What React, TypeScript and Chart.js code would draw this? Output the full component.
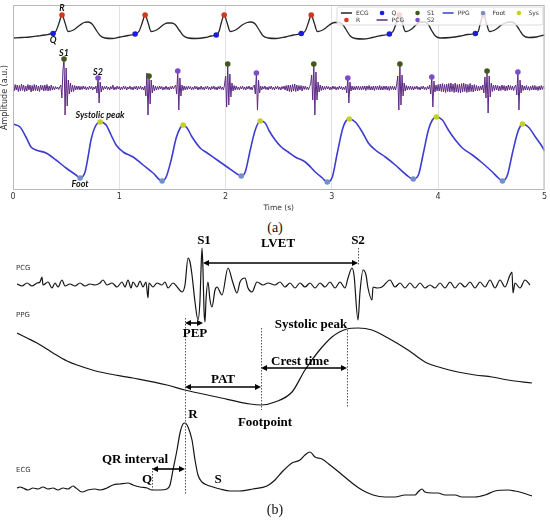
import React, { useEffect, useRef } from "react";
import { Chart, registerables } from "chart.js";
Chart.register(...registerables);

// ================= Panel (a) data =================
const timeTicks = [0, 1, 2, 3, 4, 5];

// ECG (time s, amplitude a.u.)
const ecgT = [
  0, 0.085, 0.16, 0.235, 0.301, 0.348, 0.377, 0.405, 0.433, 0.461, 0.49, 0.518, 0.546, 0.584, 0.631, 0.669, 0.706, 0.744, 0.782, 0.819, 0.866, 0.932, 1.008, 1.083,
  1.149, 1.187, 1.215, 1.243, 1.271, 1.3, 1.328, 1.365, 1.412, 1.45, 1.488, 1.525, 1.563, 1.601, 1.648, 1.723, 1.808, 1.864,
  1.912, 1.94, 1.959, 1.987, 2.015, 2.043, 2.071, 2.109, 2.156, 2.203, 2.241, 2.279, 2.316, 2.354, 2.401, 2.477, 2.561, 2.637,
  2.712, 2.75, 2.778, 2.806, 2.834, 2.863, 2.891, 2.929, 2.976, 3.023, 3.06, 3.098, 3.136, 3.173, 3.22, 3.296, 3.38, 3.465,
  3.541, 3.578, 3.606, 3.635, 3.663, 3.691, 3.719, 3.757, 3.795, 3.832, 3.87, 3.908, 3.936, 3.974, 4.021, 4.116, 4.21, 4.275,
  4.35, 4.379, 4.397, 4.426, 4.454, 4.482, 4.51, 4.548, 4.595, 4.642, 4.689, 4.727, 4.765, 4.802, 4.849, 4.925, 5,
];
const ecgA = [
  -0.2, -0.15, -0.1, 0, 0.1, 0.2, 0.25, 0.5, 1.3, 2.1, 1.3, 0.45, 0.5, 0.7, 1.1, 1.35, 1.4, 1.2, 0.6, 0.05, -0.2, -0.25, -0.1, 0.05,
  0.2, 0.5, 1.3, 2.1, 1.3, 0.45, 0.5, 0.7, 1.1, 1.3, 1.3, 1.15, 0.6, 0.05, -0.2, -0.25, -0.15, 0,
  0.1, 0.5, 1.3, 2.1, 1.3, 0.45, 0.5, 0.7, 1.1, 1.35, 1.4, 1.2, 0.6, 0, -0.2, -0.25, -0.1, 0.1,
  0.25, 0.5, 1.3, 2.1, 1.3, 0.45, 0.5, 0.7, 1.1, 1.35, 1.35, 1.2, 0.6, 0, -0.25, -0.3, -0.15, 0.05,
  0.2, 0.5, 1.3, 2.1, 1.3, 0.45, 0.5, 0.75, 1.15, 1.4, 1.4, 1.15, 0.6, 0, -0.2, -0.15, 0, 0.15,
  0.25, 0.5, 1.3, 2.1, 1.3, 0.45, 0.5, 0.7, 1.1, 1.35, 1.4, 1.2, 0.6, 0.05, -0.15, -0.1, 0.1,
];
const qT = [0.377, 1.149, 1.912, 2.712, 3.541, 4.35];
const qA = [0.25, 0.2, 0.1, 0.25, 0.2, 0.25];
const rT = [0.461, 1.243, 1.987, 2.806, 3.635, 4.426];
const rA = [2.1, 2.1, 2.1, 2.1, 2.1, 2.1];

// PCG sampled every 0.01 s
const pcgStep = 0.01;
const pcgA = [
  0.1, -0.3, 0.35, -0.2, 0.3, -0.35, 0.25, -0.3, 0.4, -0.25,
  0.3, -0.35, 0.2, -0.3, 0.35, -0.2, 0.3, -0.4, 0.25, -0.3,
  0.35, -0.25, 0.3, -0.3, 0.2, -0.35, 0.3, -0.2, 0.25, -0.3,
  0.3, -0.25, 0.35, -0.3, 0.2, -0.25, 0.3, -0.2, 0.15, -0.2,
  0.15, -0.1, 0.1, -0.15, 0.1, 0.3, -1.0, 1.8, 2.9, -2.7,
  2.0, -1.8, 0.8, -0.6, 0.5, -0.4, 0.3, -0.35, 0.25, -0.2,
  0.2, -0.15, 0.2, -0.2, 0.15, -0.15, 0.2, -0.1, 0.15, -0.2,
  0.1, -0.15, 0.2, -0.1, 0.15, -0.2, 0.1, -0.1, 0.2, -0.5,
  1.0, -1.5, 0.6, -0.4, 0.2, -0.2, 0.15, -0.1, 0.2, -0.15,
  0.1, -0.2, 0.15, -0.1, 0.3, -0.2, 0.1, -0.15, 0.2, -0.1,
  0.15, -0.2, 0.1, -0.15, 0.2, -0.1, 0.15, -0.2, 0.1, -0.1,
  0.2, -0.15, 0.1, -0.2, 0.15, -0.1, 0.2, -0.2, 0.15, -0.1,
  0.2, -0.15, 0.1, -0.2, 0.2, -0.8, 1.5, -2.7, 1.2, -1.6,
  0.8, -0.5, 0.3, -0.3, 0.2, -0.2, 0.15, -0.15, 0.2, -0.1,
  0.15, -0.2, 0.1, -0.15, 0.2, -0.15, 0.1, -0.2, 0.15, -0.1,
  0.2, -0.1, 0.15, 0.3, -0.6, 1.7, -2.2, 1.0, -0.8, 0.3,
  -0.25, 0.2, -0.2, 0.15, -0.15, 0.2, -0.1, 0.15, -0.2, 0.1,
  -0.15, 0.2, -0.1, 0.15, -0.2, 0.1, -0.15, 0.2, -0.15, 0.1,
  -0.2, 0.15, -0.1, 0.2, -0.15, 0.1, -0.2, 0.15, -0.1, 0.2,
  -0.15, 0.1, -0.2, 0.15, -0.1, 0.2, -0.15, 0.1, -0.2, 0.3,
  1.2, -1.9, 2.4, -1.7, 1.4, -0.9, 0.5, -0.3, 0.25, -0.2,
  0.2, -0.15, 0.1, -0.2, 0.15, -0.1, 0.2, -0.15, 0.1, -0.2,
  0.15, -0.1, 0.2, -0.15, 0.1, -0.2, 0.15, 0.3, -0.6, 1.5,
  -2.2, 0.8, -0.5, 0.2, -0.2, 0.15, -0.1, 0.2, -0.15, 0.1,
  -0.2, 0.15, -0.1, 0.2, -0.15, 0.1, -0.2, 0.15, -0.1, 0.2,
  -0.15, 0.1, -0.2, 0.15, -0.1, 0.2, -0.2, 0.25, -0.3, 0.3,
  -0.35, 0.3, -0.4, 0.35, -0.3, 0.4, -0.35, 0.3, -0.3, 0.25,
  -0.2, 0.25, -0.3, 0.2, -0.15, 0.2, -0.15, 0.1, -0.2, 0.15,
  0.4, 1.3, -1.2, 2.4, -2.7, 1.6, -1.2, 0.6, -0.4, 0.3,
  -0.25, 0.2, -0.2, 0.15, -0.15, 0.2, -0.1, 0.15, -0.2, 0.1,
  -0.15, 0.2, -0.1, 0.15, -0.2, 0.1, -0.15, 0.2, -0.1, 0.15,
  -0.2, 0.1, -0.15, 0.2, -0.5, 1.0, -1.5, 0.6, -0.3, 0.2,
  -0.2, 0.15, -0.2, 0.2, -0.15, 0.2, -0.2, 0.15, -0.2, 0.2,
  -0.15, 0.2, -0.25, 0.2, -0.15, 0.25, -0.2, 0.15, -0.2, 0.2,
  -0.25, 0.2, -0.15, 0.2, -0.2, 0.25, -0.2, 0.15, -0.2, 0.2,
  -0.15, 0.2, -0.2, 0.15, -0.25, 0.2, -0.15, 0.2, -0.2, 0.15,
  -0.2, 0.4, 1.2, -2.2, 2.4, -1.7, 1.3, -0.8, 0.5, -0.3,
  0.25, -0.2, 0.2, -0.15, 0.2, -0.2, 0.15, -0.2, 0.15, -0.1,
  0.2, -0.15, 0.1, -0.2, 0.15, -0.1, 0.2, -0.15, 0.1, -0.2,
  0.15, -0.1, 0.3, -0.6, 1.1, -1.9, 0.7, -0.4, 0.3, -0.3,
  0.35, -0.3, 0.4, -0.35, 0.45, -0.4, 0.35, -0.45, 0.4, -0.35,
  0.45, -0.4, 0.5, -0.35, 0.4, -0.45, 0.5, -0.4, 0.35, -0.45,
  0.4, -0.5, 0.45, -0.4, 0.5, -0.35, 0.4, -0.45, 0.35, -0.4,
  0.45, -0.35, 0.3, -0.4, 0.35, -0.3, 0.25, -0.3, 0.2, -0.25,
  0.2, -0.2, 0.3, -0.5, 1.1, -1.0, 1.7, -2.5, 1.2, -0.9,
  0.5, -0.35, 0.3, -0.25, 0.3, -0.2, 0.25, -0.3, 0.2, -0.25,
  0.3, -0.2, 0.25, -0.3, 0.2, -0.25, 0.3, -0.2, 0.25, -0.2,
  0.2, -0.25, 0.15, 0.3, -0.7, 1.6, -2.2, 0.8, -0.5, 0.3,
  -0.25, 0.2, -0.2, 0.25, -0.2, 0.15, -0.25, 0.2, -0.2, 0.25,
  -0.2, 0.25, -0.2, 0.15, -0.25, 0.2, -0.2, 0.25, -0.15, 0.2,
  -0.1,
];
const s1T = [0.48, 1.28, 2.02, 2.83, 3.64, 4.46];
const s1A = [2.9, 1.2, 2.4, 2.4, 2.4, 1.7];
const s2T = [0.8, 1.55, 2.29, 3.15, 3.94, 4.75];
const s2A = [1.0, 1.7, 1.5, 1.0, 1.1, 1.6];

// PPG
const ppgT = [
  0, 0.066, 0.122, 0.169, 0.217, 0.311, 0.405, 0.499, 0.593, 0.631,
  0.678, 0.706, 0.734, 0.772, 0.819,
  0.876, 0.923, 0.97, 1.036, 1.13, 1.224, 1.318, 1.403,
  1.441, 1.488, 1.535, 1.573, 1.601,
  1.638, 1.685, 1.761, 1.827, 1.921, 2.015, 2.109, 2.147,
  2.185, 2.232, 2.279, 2.326,
  2.373, 2.411, 2.467, 2.524, 2.589, 2.655, 2.75, 2.844, 2.91, 2.957,
  3.004, 3.051, 3.098, 3.126, 3.164,
  3.22, 3.286, 3.343, 3.409, 3.503, 3.597, 3.691, 3.766,
  3.814, 3.861, 3.908, 3.945, 3.983,
  4.04, 4.096, 4.162, 4.228, 4.322, 4.416, 4.51, 4.567, 4.605,
  4.652, 4.699, 4.746, 4.774, 4.793,
  4.849, 4.915, 4.981, 5.0,
];
const ppgA = [
  5.6, 5.3, 4.3, 3.3, 3.0, 2.7, 2.0, 1.2, 0.5, 0.2,
  0.8, 2.3, 4.0, 5.3, 5.8,
  5.5, 4.5, 3.5, 2.8, 2.3, 1.5, 0.7, -0.1,
  0.3, 2.0, 4.2, 5.2, 5.5,
  5.2, 4.3, 3.2, 2.7, 2.0, 1.3, 0.6, 0.4,
  0.8, 3.0, 5.0, 5.9,
  5.7, 4.9, 4.0, 3.3, 2.8, 2.3, 1.8, 0.8, 0.2, -0.2,
  0.3, 2.7, 5.0, 5.8, 6.1,
  5.8, 4.8, 3.7, 3.0, 2.3, 1.5, 0.6, 0.1,
  0.5, 2.7, 5.0, 6.0, 6.3,
  6.0, 5.0, 4.0, 3.2, 2.5, 1.7, 0.8, 0.2, -0.1,
  0.5, 2.7, 4.7, 5.4, 5.6,
  5.3, 4.3, 3.3, 2.9,
];
const footT = [0.631, 1.403, 2.147, 2.957, 3.766, 4.605];
const footA = [0.2, -0.1, 0.4, -0.2, 0.1, -0.1];
const sysT = [0.819, 1.601, 2.326, 3.164, 3.983, 4.793];
const sysA = [5.8, 5.5, 5.9, 6.1, 6.3, 5.6];

// ================= Panel (b) data (time ms, amplitude a.u.) =================
const pcgBT = [
  0, 10, 20, 30, 40, 46, 50, 52, 62, 70, 76, 82, 90, 96, 106, 116, 126, 136, 146, 156,
  166, 172, 180, 190, 200, 210, 216, 222, 228, 232, 240, 246, 252, 258, 262, 264, 272, 280, 290, 296,
  302, 312, 322, 330, 336, 342, 346, 350, 356, 362, 366, 368, 370, 372, 374, 376, 378, 382, 386, 390,
  396, 400, 410, 422, 432, 440, 446, 456, 462, 470, 480, 492, 502, 516, 526, 536, 546, 556, 566, 576,
  586, 596, 606, 616, 626, 636, 646, 656, 662, 670, 674, 682, 686, 692, 698, 702, 710, 712, 720, 730,
  746, 756, 766, 776, 786, 796, 806, 816, 826, 836, 846, 856, 866, 876, 886, 896, 906, 916, 926, 936,
  946, 956, 966, 976, 986, 990, 992, 996, 1006, 1016, 1026,
];
const pcgBA = [
  0.1, -0.1, 0.2, -0.1, 0.2, 0.3, 0.8, 0, 0.3, -0.3, 0.2, -0.2, 0.5, -0.1, 0.1, -0.1, 0.2, -0.1, 0.1, 0,
  0.2, 0.5, 0, 0.2, -0.2, 0.3, -0.2, 0.5, -0.3, 0.3, -0.2, 0.4, -0.2, 0.3, -1.3, 0.2, -0.2, 0.2, 0, 0.3,
  -0.3, 0.2, -0.3, -0.7, 0, 2.7, 2.3, 1.0, -1.7, -3.5, -1.5, 1.5, 3.7, 1.5, -2.5, -3.7, -1.5, 0.3, -1.5, -2.2,
  -0.5, -0.2, -1.0, 1.7, 0.2, -0.8, 0.3, 0.7, -0.3, -0.7, 0.3, 0, 0.2, 0, 0.3, -0.2, 0.2, -0.3, 0.2, -0.2,
  0.2, -0.3, 0.2, -0.2, 0.3, -0.3, 0.3, -0.3, 0.7, 1.7, 1.0, -3.5, -0.7, 1.5, 1.0, -0.3, -1.5, -0.2, -0.3, -0.2,
  0.5, -0.2, 0.2, -0.3, 0.2, -0.3, 0.2, -0.3, 0, -0.3, 0.2, -0.3, 0.3, -0.3, 0.2, -0.2, 0.3, -0.3, 0.3, -0.2,
  0.5, -0.3, 0.5, -0.2, 1.0, 1.3, -0.8, 0.2, -0.3, 0.5, 0,
];
const ppgBT = [0, 20, 40, 72, 100, 120, 166, 232, 300, 336, 400, 466, 488, 516, 550, 576, 602, 630, 660, 682, 710, 742, 782, 816, 850, 882, 916, 950, 982, 1030];
const ppgBA = [7.2, 6.7, 6.2, 5.2, 4.4, 4.0, 3.3, 2.7, 2.0, 1.5, 0.8, 0.1, 0, 0.3, 1.3, 3.5, 5.3, 6.8, 7.6, 7.7, 7.5, 6.7, 5.5, 4.3, 3.7, 3.3, 3.0, 2.8, 2.5, 2.2];
const ecgBT = [
  0, 6, 12, 22, 32, 42, 52, 62, 72, 82, 92, 102, 112, 118, 130, 142, 156, 166, 180, 192,
  206, 222, 232, 246, 260, 270, 286, 300, 306, 312, 320, 326, 332, 336, 342, 350, 356, 362, 370, 380,
  392, 406, 426, 446, 472, 500, 516, 530, 550, 566, 576, 586, 596, 610, 626, 646, 670, 690, 712, 736,
  756, 776, 796, 802, 810, 816, 830, 842, 856, 876, 890, 916, 936, 956, 982, 996, 1012, 1030,
];
const ecgBA = [
  0, 0.1, 0, -0.2, 0, -0.1, 0.1, -0.1, 0, -0.2, 0, -0.1, 0.2, 0, -0.4, -0.2, -0.1, -0.2, 0, 0.3,
  0.4, 0.5, 0.3, 0.1, 0, -0.2, -0.2, -0.1, 0.3, 1.8, 3.8, 5.5, 6.4, 6.5, 6.1, 4.8, 2.8, 1.3, 0.6, 0.3,
  0.1, -0.1, -0.3, -0.3, -0.1, 0.2, 0.8, 1.6, 2.5, 2.8, 3.3, 3.6, 3.1, 2.9, 2.3, 1.5, 0.5, -0.2, -0.7, -0.9,
  -0.9, -0.7, -0.7, -0.4, -0.1, -0.4, -0.5, -0.5, -0.7, -0.7, -0.9, -0.9, -0.7, -0.3, -0.2, -0.3, -0.5, -0.8,
];
// event times in panel (b), ms
const bQ = 270, bR = 336, bS1 = 372, bS2 = 682, bFoot = 488, bCrest = 660;

// ================= layout / style constants =================
const ECG_OFF = 15.4, PCG_OFF = 10.2, PPG_OFF = 1.0;
const PCG_B_OFF = 24.1, PPG_B_OFF = 12.1, ECG_B_OFF = 3.8;
const C = {
  ecg: "#262626", r: "#d2381e", q: "#1c1ce0", pcg: "#5e2a84", s1: "#3f5a1c",
  s2: "#7d4cc8", ppg: "#3d3dd0", foot: "#7391c8", sys: "#c5cf2a",
};
const legendColumns = [["ECG", "R"], ["Q", "PCG"], ["S1", "S2"], ["PPG"], ["Foot"], ["Sys"]];

function series(ts: number[], as: number[], off: number) {
  return ts.map((t, i) => ({ x: t, y: as[i] + off }));
}

function drawLegend(chart: any) {
  const ctx = chart.ctx;
  const ca = chart.chartArea;
  ctx.save();
  ctx.font = '6px "DejaVu Sans"';
  const cols = legendColumns.map((col) => col.map((l) => chart.data.datasets.find((d: any) => d.label === l)));
  const handle = 11, gap = 4, colGap = 8, pad = 4;
  const widths = cols.map((col) => handle + gap + Math.max(...col.map((d: any) => ctx.measureText(d.label).width)));
  const total = widths.reduce((a, b) => a + b, 0) + colGap * (cols.length - 1) + pad * 2;
  const right = ca.right - 1.5, top = ca.top + 2;
  const left = right - total;
  const h = 18;
  ctx.fillStyle = "rgba(255,255,255,0.8)";
  ctx.strokeStyle = "#d4d4d4";
  ctx.lineWidth = 0.8;
  ctx.beginPath();
  ctx.roundRect(left, top, total, h, 2);
  ctx.fill();
  ctx.stroke();
  let cx = left + pad;
  cols.forEach((col, ci) => {
    col.forEach((d: any, ri: number) => {
      const cy = top + 6 + 7 * ri;
      if (d.showLine === false) {
        ctx.fillStyle = d.pointBackgroundColor;
        ctx.beginPath();
        ctx.arc(cx + handle / 2, cy, 2.3, 0, Math.PI * 2);
        ctx.fill();
      } else {
        ctx.strokeStyle = d.borderColor;
        ctx.lineWidth = 1.5;
        ctx.beginPath();
        ctx.moveTo(cx, cy);
        ctx.lineTo(cx + handle, cy);
        ctx.stroke();
      }
      ctx.fillStyle = "#333";
      ctx.textAlign = "left";
      ctx.textBaseline = "middle";
      ctx.fillText(d.label, cx + handle + gap, cy + 0.5);
    });
    cx += widths[ci] + colGap;
  });
  ctx.restore();
}

const panelAPlugin = {
  id: "panelA",
  afterDatasetsDraw(chart: any) {
    const { ctx, chartArea: ca } = chart;
    const x = chart.scales.x, y = chart.scales.y;
    ctx.save();
    ctx.strokeStyle = "#b8b8b8";
    ctx.lineWidth = 1;
    ctx.strokeRect(ca.left + 0.5, ca.top + 0.5, ca.right - ca.left - 1, ca.bottom - ca.top - 1);
    ctx.save();
    ctx.translate(5, (ca.top + ca.bottom) / 2);
    ctx.rotate(-Math.PI / 2);
    ctx.font = '8px "DejaVu Sans"';
    ctx.fillStyle = "#333";
    ctx.textAlign = "center";
    ctx.textBaseline = "middle";
    ctx.fillText("Amplitude (a.u.)", 0, 0);
    ctx.restore();
    ctx.font = "italic bold 9px Lato";
    ctx.fillStyle = "#111";
    ctx.textAlign = "center";
    ctx.textBaseline = "middle";
    const lab = (text: string, t: number, v: number) => ctx.fillText(text, x.getPixelForValue(t), y.getPixelForValue(v));
    lab("R", rT[0], ECG_OFF + rA[0] + 0.7);
    lab("Q", qT[0], ECG_OFF + qA[0] - 0.7);
    lab("S1", s1T[0], PCG_OFF + s1A[0] + 0.6);
    lab("S2", s2T[0], PCG_OFF + s2A[0] + 0.6);
    lab("Systolic peak", sysT[0], PPG_OFF + sysA[0] + 0.7);
    lab("Foot", footT[0], PPG_OFF + footA[0] - 0.6);
    ctx.restore();
    drawLegend(chart);
  },
};

function drawArrow(ctx: any, x1: number, x2: number, yy: number) {
  const hl = 6, hw = 3;
  ctx.beginPath();
  ctx.moveTo(x1 + hl - 1, yy);
  ctx.lineTo(x2 - hl + 1, yy);
  ctx.stroke();
  ctx.beginPath();
  ctx.moveTo(x1, yy);
  ctx.lineTo(x1 + hl, yy - hw);
  ctx.lineTo(x1 + hl, yy + hw);
  ctx.closePath();
  ctx.fill();
  ctx.beginPath();
  ctx.moveTo(x2, yy);
  ctx.lineTo(x2 - hl, yy - hw);
  ctx.lineTo(x2 - hl, yy + hw);
  ctx.closePath();
  ctx.fill();
}

const panelBPlugin = {
  id: "panelB",
  afterDatasetsDraw(chart: any) {
    const { ctx } = chart;
    const X = (t: number) => chart.scales.x.getPixelForValue(t);
    const Y = (v: number) => chart.scales.y.getPixelForValue(v);
    ctx.save();
    ctx.strokeStyle = "#555";
    ctx.lineWidth = 1;
    ctx.setLineDash([1.5, 1.5]);
    const guides = [
      [bR, 20.8, 3.1], [bS2, 27.8, 26.1], [bFoot, 19.8, 11.6], [bCrest, 19.6, 11.8], [bQ, 5.8, 3.6],
    ];
    guides.forEach(([t, v1, v2]) => {
      const px = Math.round(X(t)) + 0.5;
      ctx.beginPath();
      ctx.moveTo(px, Y(v1));
      ctx.lineTo(px, Y(v2));
      ctx.stroke();
    });
    ctx.setLineDash([]);
    ctx.strokeStyle = "#000";
    ctx.fillStyle = "#000";
    ctx.lineWidth = 1.6;
    const arrows = [
      [bS1, bS2, 26.3], [bR, bS1, 20.3], [bR, bFoot, 13.9], [bFoot, bCrest, 15.8], [bQ, bR, 5.7],
    ];
    arrows.forEach(([t1, t2, v]) => drawArrow(ctx, X(t1), X(t2), Y(v)));
    ctx.font = 'bold 13px "Liberation Serif"';
    ctx.textAlign = "center";
    ctx.textBaseline = "middle";
    const labels: [string, number, number][] = [
      ["S1", bS1 + 2, 28.5], ["S2", bS2, 28.5], ["LVET", 522, 28.2], ["PEP", 356, 19.2],
      ["Systolic peak", 588, 20.1], ["Crest time", 566, 16.4], ["PAT", 412, 14.6], ["Footpoint", 496, 10.3],
      ["QR interval", 236, 6.6], ["Q", 260, 4.6], ["R", 352, 11.1], ["S", 402, 4.6],
    ];
    labels.forEach(([s, t, v]) => ctx.fillText(s, X(t), Y(v)));
    ctx.font = '7px "DejaVu Sans"';
    ctx.fillStyle = "#333";
    ctx.textAlign = "left";
    [["PCG", 25.8], ["PPG", 21.1], ["ECG", 5.6]].forEach(([s, v]: any) => ctx.fillText(s, X(0) - 1, Y(v)));
    ctx.restore();
  },
};

function PanelA() {
  const ref = useRef<HTMLCanvasElement>(null);
  useEffect(() => {
    const pt = (color: string) => ({
      showLine: false, pointRadius: 2.8, pointHoverRadius: 2.8, pointBackgroundColor: color,
      pointBorderWidth: 0, borderColor: color, order: 0,
    });
    const pcgPts = pcgA.map((a, i) => ({ x: +(i * pcgStep).toFixed(2), y: a + PCG_OFF }));
    const chart = new Chart(ref.current!, {
      type: "line",
      data: {
        datasets: [
          { label: "R", data: series(rT, rA, ECG_OFF), ...pt(C.r) },
          { label: "Q", data: series(qT, qA, ECG_OFF), ...pt(C.q) },
          { label: "S1", data: series(s1T, s1A, PCG_OFF), ...pt(C.s1) },
          { label: "S2", data: series(s2T, s2A, PCG_OFF), ...pt(C.s2) },
          { label: "Foot", data: series(footT, footA, PPG_OFF), ...pt(C.foot) },
          { label: "Sys", data: series(sysT, sysA, PPG_OFF), ...pt(C.sys) },
          { label: "ECG", data: series(ecgT, ecgA, ECG_OFF), borderColor: C.ecg, borderWidth: 1.3, pointRadius: 0, cubicInterpolationMode: "monotone", order: 2 },
          { label: "PCG", data: pcgPts, borderColor: C.pcg, borderWidth: 1, pointRadius: 0, tension: 0, order: 2 },
          { label: "PPG", data: series(ppgT, ppgA, PPG_OFF), borderColor: C.ppg, borderWidth: 1.6, pointRadius: 0, cubicInterpolationMode: "monotone", order: 2 },
        ] as any,
      },
      options: {
        animation: false,
        responsive: false,
        maintainAspectRatio: false,
        events: [],
        layout: { padding: { left: 13, right: 5, top: 5, bottom: 0 } },
        plugins: { legend: { display: false }, tooltip: { enabled: false } },
        scales: {
          x: {
            type: "linear", min: 0, max: 5,
            afterBuildTicks: (s: any) => { s.ticks = timeTicks.map((v) => ({ value: v })); },
            ticks: { font: { size: 8, family: "DejaVu Sans", lineHeight: 1 }, color: "#333", padding: 3 },
            grid: { color: "#e2e2e2", drawTicks: false },
            border: { display: false },
            title: { display: true, text: "Time (s)", font: { size: 7.5, family: "DejaVu Sans", lineHeight: 1 }, color: "#333", padding: { top: 0.5, bottom: 0 } },
          },
          y: { display: false, min: 0, max: 18.5 },
        },
      } as any,
      plugins: [panelAPlugin],
    });
    return () => chart.destroy();
  }, []);
  return <canvas ref={ref} width={550} height={212} style={{ position: "absolute", left: 0, top: 0 }} />;
}

function PanelB() {
  const ref = useRef<HTMLCanvasElement>(null);
  useEffect(() => {
    const line = { borderColor: "#151515", borderWidth: 1.2, pointRadius: 0, cubicInterpolationMode: "monotone" };
    const chart = new Chart(ref.current!, {
      type: "line",
      data: {
        datasets: [
          { label: "PCG", data: series(pcgBT, pcgBA, PCG_B_OFF), ...line },
          { label: "PPG", data: series(ppgBT, ppgBA, PPG_B_OFF), ...line },
          { label: "ECG", data: series(ecgBT, ecgBA, ECG_B_OFF), ...line },
        ] as any,
      },
      options: {
        animation: false,
        responsive: false,
        maintainAspectRatio: false,
        events: [],
        layout: { padding: { left: 17, right: 18, top: 0, bottom: 0 } },
        plugins: { legend: { display: false }, tooltip: { enabled: false } },
        scales: {
          x: { type: "linear", display: false, min: 0, max: 1030 },
          y: { display: false, min: 0, max: 29.6 },
        },
      } as any,
      plugins: [panelBPlugin],
    });
    return () => chart.destroy();
  }, []);
  return <canvas ref={ref} width={550} height={296} style={{ position: "absolute", left: 0, top: 230 }} />;
}

export default function App() {
  const cap: React.CSSProperties = {
    position: "absolute", left: 0, width: 550, textAlign: "center",
    fontFamily: '"Liberation Serif", serif', fontSize: 14, lineHeight: "16px", color: "#111",
  };
  return (
    <div style={{ position: "fixed", left: 0, top: 0, width: 550, height: 526, background: "#fff", overflow: "hidden" }}>
      <PanelA />
      <div style={{ ...cap, top: 220 }}>(a)</div>
      <PanelB />
      <div style={{ ...cap, top: 502 }}>(b)</div>
    </div>
  );
}
